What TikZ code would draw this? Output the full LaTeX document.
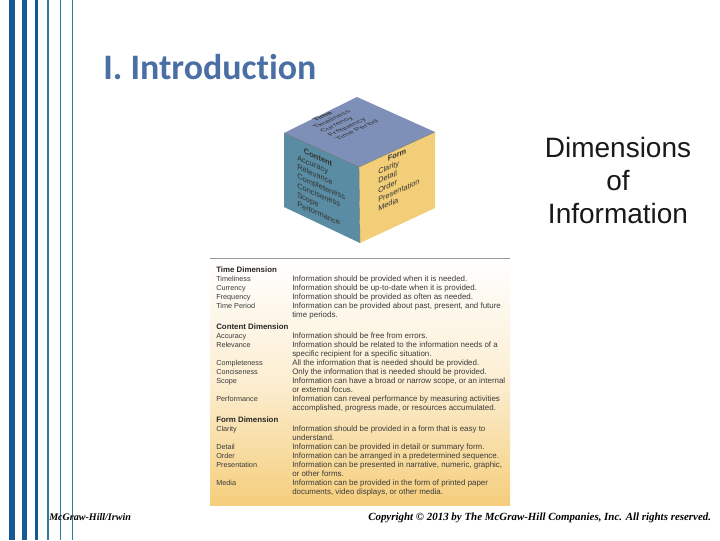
\documentclass[tikz,border=0pt]{standalone}
\usepackage{fontspec}
\setmainfont{Liberation Sans}
\newfontfamily\titlefont[Ligatures=NoCommon]{Carlito}
\newfontfamily\footfont{Liberation Serif}
\definecolor{stripeA}{HTML}{155A94}
\definecolor{stripeB}{HTML}{2E7A9E}
\definecolor{titleblue}{HTML}{4A6FA5}
\definecolor{topface}{HTML}{7E8FB8}
\definecolor{leftface}{HTML}{5A8CA3}
\definecolor{rightface}{HTML}{F2CE78}
\definecolor{tabletop}{HTML}{FFFFFF}
\definecolor{tablebot}{HTML}{F5CE7C}
\definecolor{tabletext}{HTML}{3A3A3A}
\tikzset{
  stripe/.style={fill=#1,draw=none},
  cubeface/.style={fill=#1,draw=none},
  cubetext/.style={text=black!80,align=left,inner sep=0pt,transform shape,anchor=north west},
  tabletxt/.style={font=\fontsize{5.95}{6.9}\selectfont,text=tabletext,inner sep=0pt,anchor=base west},
  tablelab/.style={tabletxt,font=\fontsize{5.45}{6.9}\selectfont},
  tablehead/.style={tabletxt,font=\fontsize{5.9}{6.9}\selectfont\bfseries,text=black!85},
  foot/.style={font=\footfont\fontsize{#1}{9}\selectfont\bfseries\itshape,text=black,inner sep=0pt,anchor=base west},
}
\begin{document}
\begin{tikzpicture}[x=0.75pt,y=-0.75pt]
\useasboundingbox (0,0) rectangle (720,540);
\fill[white] (0,0) rectangle (720,540);
% stripes
\fill[stripe=stripeA] (9,0) rectangle (15,540);
\fill[stripe=stripeA] (22,0) rectangle (27,540);
\fill[stripe=stripeA] (35,0) rectangle (38,540);
\fill[stripe=stripeB] (47,0) rectangle (49,540);
\fill[stripe=stripeB] (60,0) rectangle (61.3,540);
\fill[stripe=stripeB] (72,0) rectangle (73,540);
% title
\node[font=\titlefont\fontsize{26.9}{30}\selectfont\bfseries,text=titleblue,inner sep=0pt,anchor=base west] (title) at (103,79) {I. Introduction};
% side text
\node[font=\fontsize{21}{24.75}\selectfont,align=center,inner sep=0pt,text=black!90] (dims) at (618,180.5) {Dimensions\\of\\Information};
% cube
\coordinate (ctop) at (357,97);
\coordinate (cleft) at (284,133);
\coordinate (cright) at (435,132);
\coordinate (cmid) at (359,167);
\coordinate (cbot) at (360,243);
\coordinate (clb) at (284,207);
\coordinate (crb) at (435,208);
\fill[cubeface=topface] (ctop)--(cright)--(cmid)--(cleft)--cycle;
\fill[cubeface=leftface] (cleft)--(cmid)--(cbot)--(clb)--cycle;
\fill[cubeface=rightface] (cmid)--(cright)--(crb)--(cbot)--cycle;
\draw[black!55,line width=0.3pt] (cleft)--(cmid)--(cright) (cmid)--(cbot);
\node[cubetext,font=\fontsize{6.3}{8}\selectfont,cm={0.9,0.42,-0.72,0.35,(0,0)}] (ttime) at (303,123) {\hspace*{1.05em}\textbf{Time}\\Timeliness\\Currency\\Frequency\\Time Period};
\node[cubetext,font=\fontsize{5.9}{7}\selectfont,cm={0.95,-0.42,0,1,(0,0)}] (tcontent) at (297,145) {\hspace*{0.9em}\textbf{Content}\\Accuracy\\Relevance\\Completeness\\Conciseness\\Scope\\Performance};
\node[cubetext,font=\fontsize{5.8}{6.9}\selectfont,cm={0.95,0.42,0,1,(0,0)}] (tform) at (378,160) {\hspace*{1.3em}\textbf{Form}\\Clarity\\Detail\\Order\\Presentation\\Media};
% table
\shade[top color=tabletop,bottom color=tablebot,middle color=tablebot!35] (210,259) rectangle (510,505);
\draw[black!40,line width=0.8pt] (210,258.5) -- (510,258.5);
\foreach \i/\y/\a/\b in {
 2/281/Timeliness/{Information should be provided when it is needed.},
 3/290/Currency/{Information should be up-to-date when it is provided.},
 4/299/Frequency/{Information should be provided as often as needed.},
 5/308/Time Period/{Information can be provided about past, present, and future},
 6/317//{time periods.},
 8/338/Accuracy/{Information should be free from errors.},
 9/347/Relevance/{Information should be related to the information needs of a},
 10/356//{specific recipient for a specific situation.},
 11/365/Completeness/{All the information that is needed should be provided.},
 12/374/Conciseness/{Only the information that is needed should be provided.},
 13/383/Scope/{Information can have a broad or narrow scope, or an internal},
 14/392//{or external focus.},
 15/401/Performance/{Information can reveal performance by measuring activities},
 16/410//{accomplished, progress made, or resources accumulated.},
 18/431/Clarity/{Information should be provided in a form that is easy to},
 19/440//{understand.},
 20/449/Detail/{Information can be provided in detail or summary form.},
 21/458/Order/{Information can be arranged in a predetermined sequence.},
 22/467/Presentation/{Information can be presented in narrative, numeric, graphic,},
 23/476//{or other forms.},
 24/485/Media/{Information can be provided in the form of printed paper},
 25/494//{documents, video displays, or other media.}}
{
 \node[tablelab] (lab\i) at (216,\y) {\a};
 \node[tabletxt] (desc\i) at (292,\y) {\b};
}
\node[tablehead] (h1) at (216,272) {Time Dimension};
\node[tablehead] (h2) at (216,329) {Content Dimension};
\node[tablehead] (h3) at (216,422) {Form Dimension};
% footer
\node[foot=7.55] (f1) at (49,520) {McGraw-Hill/Irwin};
\node[foot=8.2] (f2) at (368,520) {Copyright © 2013 by The McGraw-Hill Companies, Inc. All rights reserved.};
\end{tikzpicture}
\end{document}
